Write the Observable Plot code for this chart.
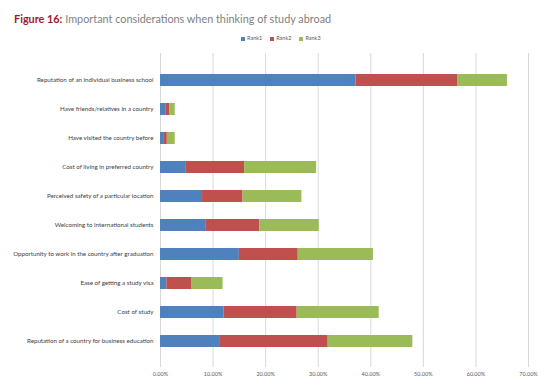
<!DOCTYPE html>
<html>
<head>
<meta charset="utf-8">
<script src="https://cdn.jsdelivr.net/npm/d3@7"></script>
<script src="https://cdn.jsdelivr.net/npm/@observablehq/plot@0.6"></script>
<style>
  html, body { margin: 0; padding: 0; background: #fff; }
  #wrap { position: relative; width: 551px; height: 385px; overflow: hidden; }
  #title { position: absolute; left: 14px; top: 12px; font-family: Lato, sans-serif; font-size: 10.85px; color: #7f7f7f; white-space: nowrap; }
  #title b { color: #a0182e; font-weight: 700; }
  #legend { position: absolute; left: 241px; top: 35px; font-family: Lato, sans-serif; font-size: 5.5px; color: #595959; white-space: nowrap; display: flex; gap: 8px; align-items: center; }
  #legend span.sw { display: inline-block; width: 4px; height: 4px; margin-right: 2px; vertical-align: middle; }
  #chart { position: absolute; left: 0; top: 0; }
</style>
</head>
<body>
<div id="wrap">
  <div id="chart"></div>
  <div id="title"><b>Figure 16:</b> Important considerations when thinking of study abroad</div>
  <div id="legend"></div>
</div>
<script>
const categories = [
  "Reputation of an individual business school",
  "Have friends/relatives in a country",
  "Have visited the country before",
  "Cost of living in preferred country",
  "Perceived safety of a particular location",
  "Welcoming to international students",
  "Opportunity to work in the country after graduation",
  "Ease of getting a study visa",
  "Cost of study",
  "Reputation of a country for business education"
];
const seriesNames = ["Rank1", "Rank2", "Rank3"];
const rank1 = [37.2, 1.1, 0.6, 4.8, 8.0, 8.6, 15.0, 1.2, 12.1, 11.4];
const rank2 = [19.4, 0.7, 0.7, 11.2, 7.7, 10.3, 11.2, 4.7, 13.9, 20.5];
const rank3 = [9.4, 1.0, 1.5, 13.7, 11.2, 11.3, 14.3, 6.0, 15.6, 16.1];
const colors = ["#4f81bd", "#c0504d", "#9bbb59"];
const xTicks = [0, 10, 20, 30, 40, 50, 60, 70];

const series = [rank1, rank2, rank3];
const rows = [];
categories.forEach((c, i) => {
  series.forEach((s, k) => rows.push({category: c, rank: seriesNames[k], value: s[i]}));
});

const chart = Plot.plot({
  width: 551,
  height: 385,
  marginTop: 53,
  marginBottom: 18,
  marginLeft: 160,
  marginRight: 23,
  style: {fontFamily: "Lato, sans-serif", background: "#fff"},
  x: {domain: [0, 70]},
  y: {domain: categories, padding: 0.6},
  color: {domain: seriesNames, range: colors},
  marks: [
    Plot.gridX({ticks: xTicks, stroke: "#d9d9d9", strokeOpacity: 1, strokeWidth: 1}),
    Plot.barX(rows, Plot.stackX({y: "category", x: "value", fill: "rank", order: null})),
    Plot.axisY({tickSize: 0, tickPadding: 7, fontSize: 6.2, label: null, fill: "#404040"}),
    Plot.axisX({ticks: xTicks, tickSize: 0, tickPadding: 5, fontSize: 5.5, label: null, fill: "#595959",
      tickFormat: d => d.toFixed(2) + "%"})
  ]
});
document.getElementById("chart").appendChild(chart);

const legend = document.getElementById("legend");
seriesNames.forEach((n, k) => {
  const item = document.createElement("span");
  item.innerHTML = `<span class="sw" style="background:${colors[k]}"></span>${n}`;
  legend.appendChild(item);
});
</script>
</body>
</html>
